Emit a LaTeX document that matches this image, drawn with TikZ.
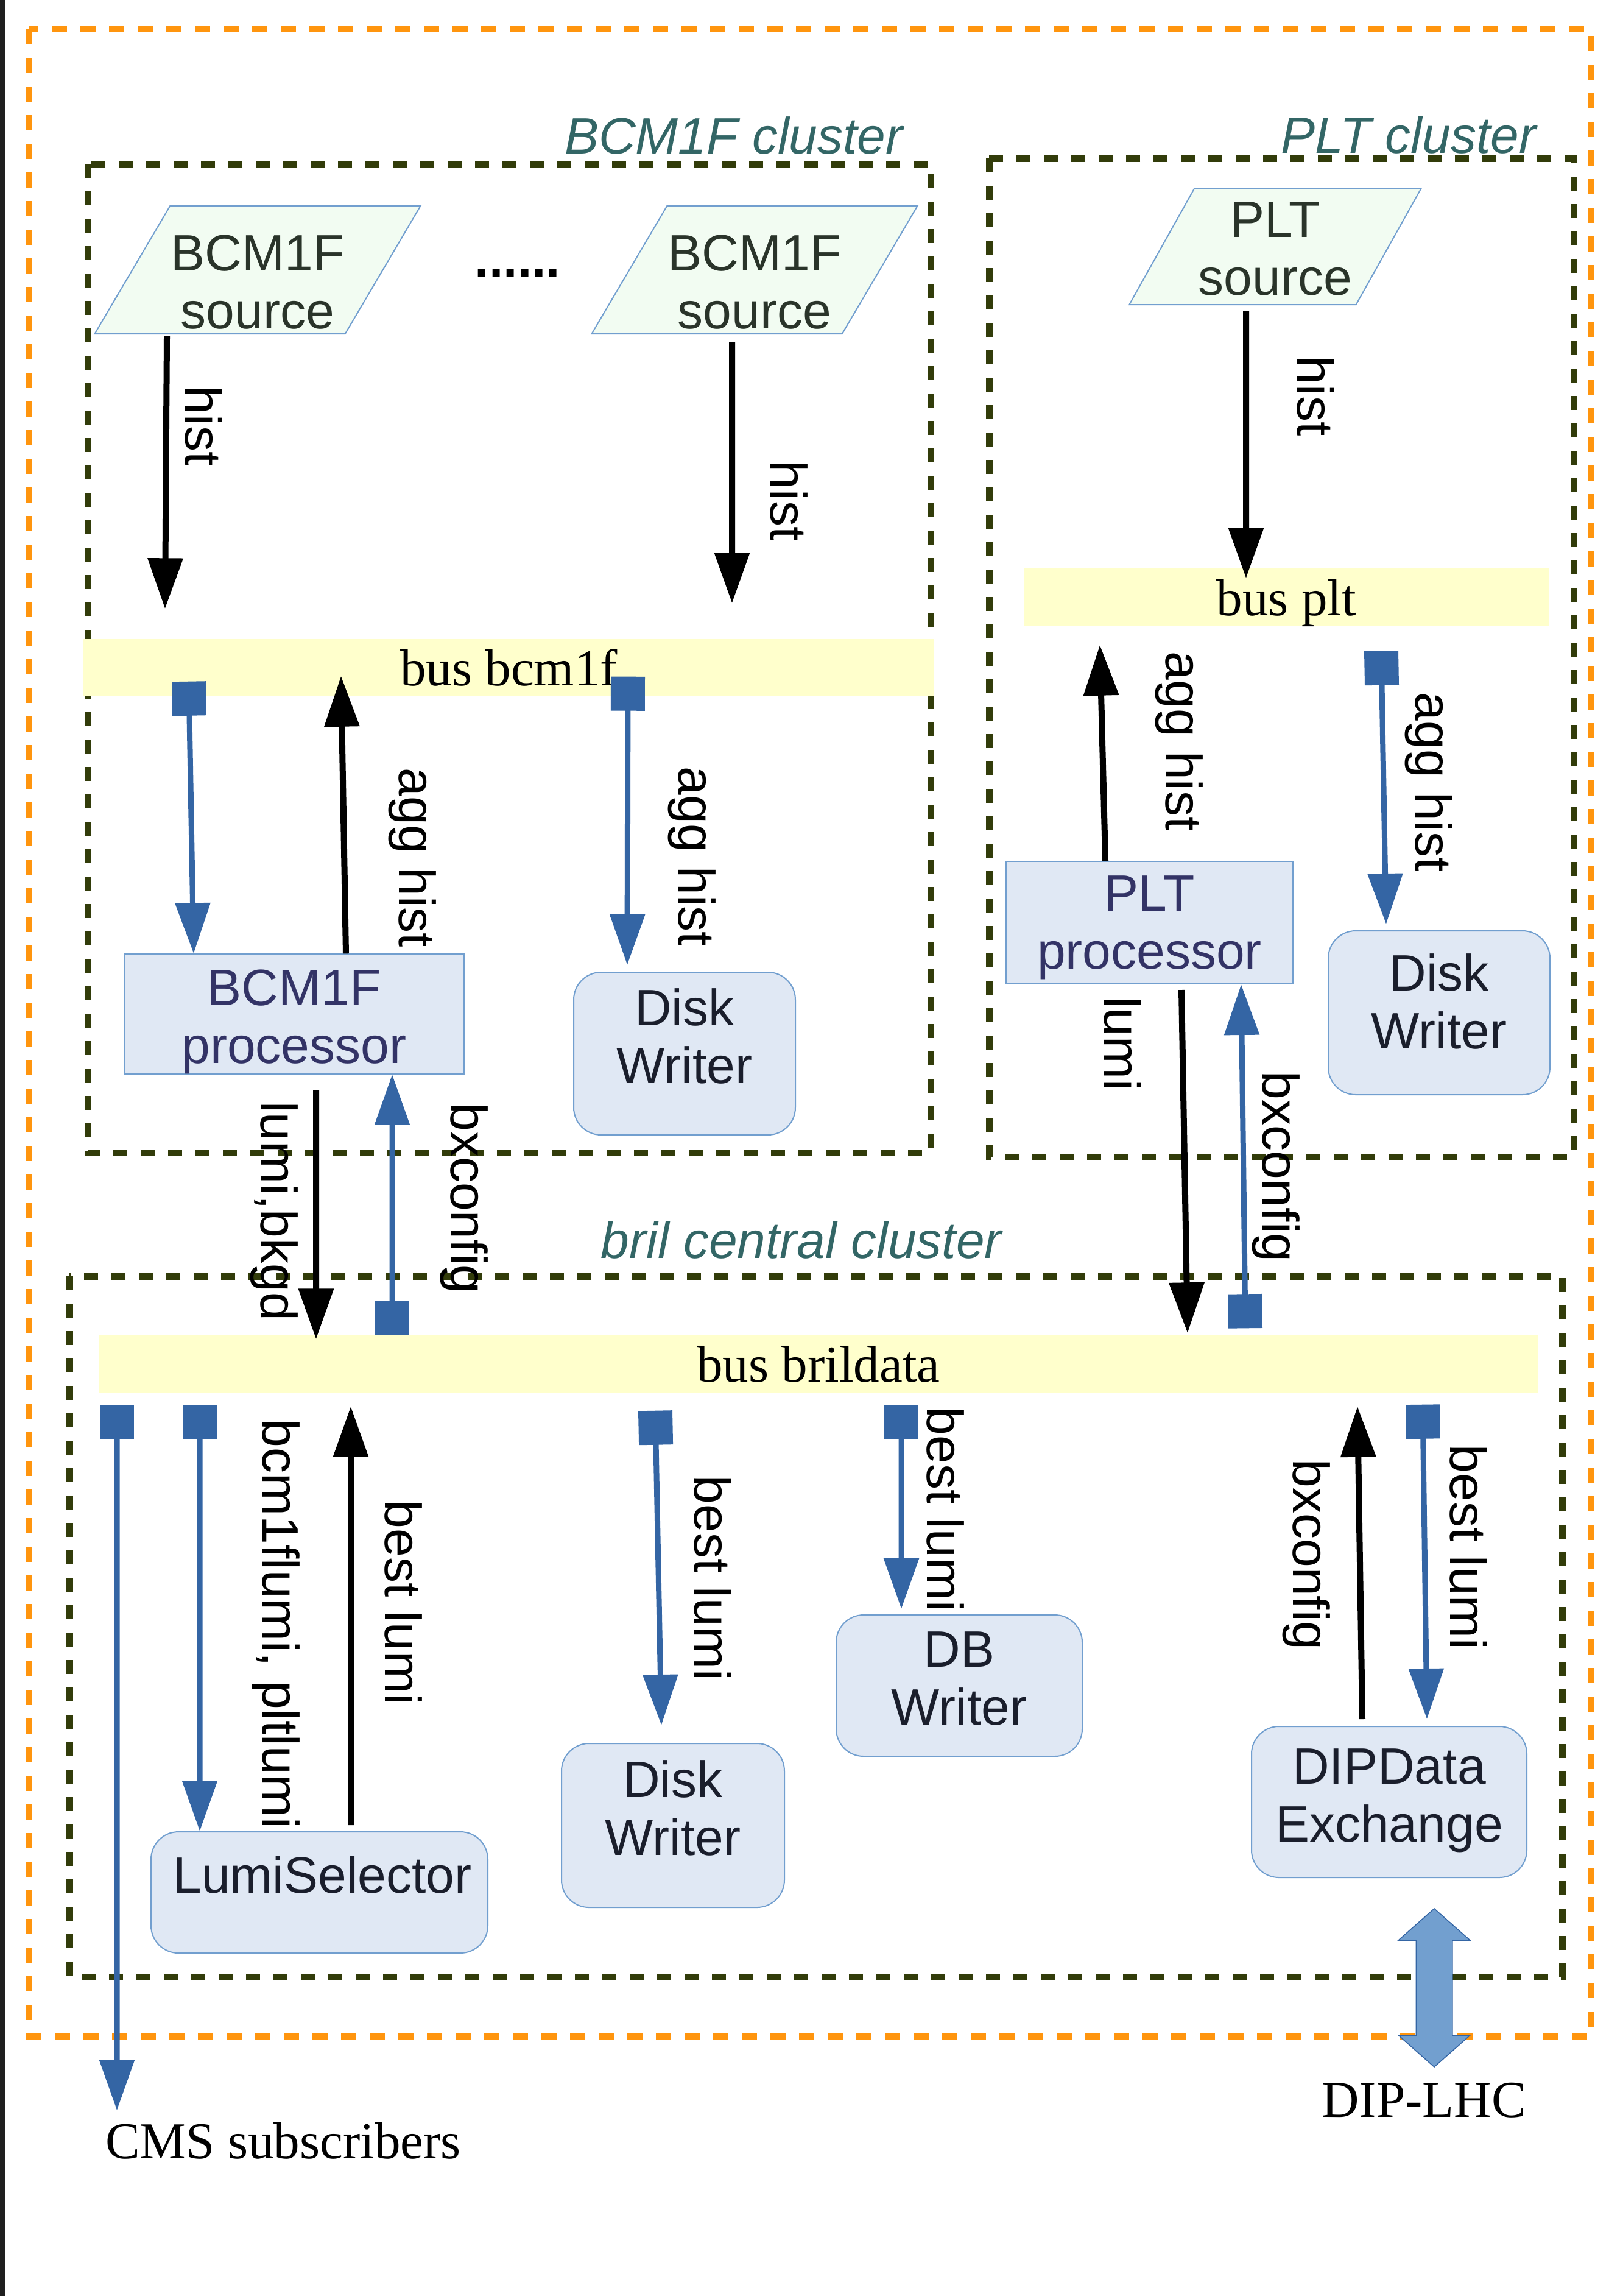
\documentclass[tikz,border=0pt]{standalone}
\usepackage{fontspec}
\setmainfont{Liberation Serif}
\setsansfont{Liberation Sans}
\usepackage{tikz}
\usetikzlibrary{shapes.geometric, shapes.arrows, arrows.meta, positioning, calc}

\definecolor{daqorange}{RGB}{255,149,14}
\definecolor{clusterolive}{RGB}{50,60,10}
\definecolor{clusterteal}{RGB}{51,102,102}
\definecolor{flowblue}{RGB}{52,101,164}
\definecolor{edgeblue}{RGB}{114,159,207}
\definecolor{boxblue}{RGB}{224,232,244}
\definecolor{srcgreen}{RGB}{242,252,242}
\definecolor{busyellow}{RGB}{255,255,204}
\definecolor{proctext}{RGB}{51,51,102}
\definecolor{srctext}{RGB}{42,52,42}
\definecolor{writertext}{RGB}{26,30,44}

\newcommand{\boxfont}{\sffamily\fontsize{23.9}{27}\selectfont}
\newcommand{\lblfont}{\sffamily\fontsize{23.9}{27}\selectfont}
\newcommand{\busfont}{\rmfamily\fontsize{24.2}{27}\selectfont}
\newcommand{\clusterfont}{\sffamily\itshape\fontsize{23.9}{27}\selectfont}

\tikzset{
    source/.style={
        trapezium, trapezium left angle=57.7, trapezium right angle=122.3,
        trapezium stretches=true, minimum width=5.36cm, minimum height=2.1cm,
        draw=edgeblue, line width=0.02cm, fill=srcgreen, inner sep=0pt,
        text=srctext, font=\boxfont, align=center
    },
    process/.style={
        rectangle, draw=edgeblue, line width=0.02cm, fill=boxblue,
        inner sep=0pt, text=proctext, font=\boxfont, align=center
    },
    writer/.style={process, rounded corners=0.45cm, text=writertext, text depth=0.58cm},
    bus/.style={rectangle, fill=busyellow, inner sep=0pt, font=\busfont, text depth=0pt},
    ext/.style={inner sep=0pt, font=\busfont},
    clustertitle/.style={inner sep=0pt, font=\clusterfont, text=clusterteal},
    cluster/.style={draw=clusterolive, line width=0.11cm, dash pattern=on 0.23cm off 0.22cm},
    daqframe/.style={draw=daqorange, line width=0.1cm, dash pattern=on 0.25cm off 0.22cm},
    tag/.style={rotate=-90, inner sep=0pt, font=\lblfont},
    % connectors
    arrow/.style={line width=0.1cm, -{Triangle[length=0.83cm, width=0.56cm]}},
    feed/.style={draw=flowblue, line width=0.09cm,
        {Square[length=0.56cm]}-{Triangle[length=0.83cm, width=0.56cm]}},
    bigarrow/.style={double arrow, rotate=90, draw=flowblue, line width=0.015cm,
        fill=edgeblue, inner xsep=0pt, inner ysep=0.29cm, minimum height=2.6cm,
        minimum width=1.16cm, double arrow head extend=0.29cm, double arrow tip angle=97}
}

\begin{document}
\begin{tikzpicture}[x=1cm, y=1cm]
    \useasboundingbox (0,0) rectangle (26.42,-37.69);
    \fill[black!88] (0,0) rectangle (0.08,-37.69);

    % frames
    \draw[daqframe] (0.48,-0.48) rectangle (26.12,-33.43);
    \draw[cluster] (1.44,-2.69) rectangle (15.28,-18.92);
    \draw[cluster] (16.24,-2.60) rectangle (25.84,-18.99);
    \draw[cluster] (1.14,-20.95) rectangle (25.65,-32.45);

    \node (bcm1ftitle) [clustertitle, anchor=base] at (12.05,-2.52) {BCM1F cluster};
    \node (plttitle) [clustertitle, anchor=base] at (23.13,-2.51) {PLT cluster};
    \node (briltitle) [clustertitle, anchor=base] at (13.16,-20.65) {bril central cluster};

    % BCM1F cluster
    \node (src1) [source, text height=1.93cm] at (4.23,-4.43) {BCM1F\\source};
    \node (src2) [source, text height=1.93cm] at (12.39,-4.43) {BCM1F\\source};
    \node (more) [font=\lblfont\bfseries, anchor=base] at (8.50,-4.54) {......};
    \node (bcm1fbus) [bus, minimum width=13.97cm, minimum height=0.93cm] at (8.355,-10.955) {bus bcm1f};
    \node (bcm1fproc) [process, text height=1.79cm, minimum width=5.58cm, minimum height=1.93cm] at (4.83,-16.645) {BCM1F\\processor};
    \node (bcm1fdisk) [writer, minimum width=3.64cm, minimum height=2.67cm] at (11.24,-17.295) {Disk\\Writer};

    % PLT cluster
    \node (pltsrc) [source, text height=1.6cm, minimum width=4.80cm, minimum height=1.91cm] at (20.94,-4.045) {PLT\\source};
    \node (pltbus) [bus, minimum width=8.63cm, minimum height=0.95cm] at (21.125,-9.805) {bus plt};
    \node (pltproc) [process, text height=1.69cm, minimum width=4.71cm, minimum height=2.01cm] at (18.875,-15.145) {PLT\\processor};
    \node (pltdisk) [writer, text depth=0.38cm, minimum width=3.64cm, minimum height=2.69cm] at (23.63,-16.625) {Disk\\Writer};

    % central cluster
    \node (brilbus) [bus, minimum width=23.62cm, minimum height=0.94cm] at (13.44,-22.39) {bus brildata};
    \node (lumisel) [writer, minimum width=5.53cm, minimum height=1.99cm] at (5.245,-31.065) {\hspace{0.1cm}LumiSelector};
    \node (centraldisk) [writer, minimum width=3.66cm, minimum height=2.69cm] at (11.05,-29.965) {Disk\\Writer};
    \node (dbwriter) [writer, text depth=0.24cm, minimum width=4.04cm, minimum height=2.32cm] at (15.75,-27.67) {DB\\Writer};
    \node (dipx) [writer, text depth=0.22cm, minimum width=4.52cm, minimum height=2.48cm] at (22.81,-29.58) {DIPData\\Exchange};

    % outside
    \node (cms) [ext, anchor=base] at (4.65,-35.43) {CMS subscribers};
    \node (diplhc) [ext, anchor=base] at (23.38,-34.75) {DIP-LHC};
    \node (diplink) [bigarrow] at (23.55,-32.63) {};

    % BCM1F connectors
    \draw [arrow] ([xshift=-1.49cm, yshift=-0.03cm]src1.south) -- ([xshift=-5.645cm, yshift=0.49cm]bcm1fbus.north)
        node (lh1) [tag] at (3.35,-6.99) {hist};
    \draw [arrow] ([xshift=-0.37cm, yshift=-0.12cm]src2.south) -- ([xshift=3.665cm, yshift=0.58cm]bcm1fbus.north)
        node (lh2) [tag] at (12.96,-8.22) {hist};
    \draw [feed] ([xshift=-5.255cm, yshift=0.24cm]bcm1fbus.south) -- ([xshift=-1.65cm]bcm1fproc.north);
    \draw [arrow] ([xshift=0.85cm]bcm1fproc.north) -- ([xshift=-2.755cm, yshift=0.33cm]bcm1fbus.south)
        node (lagg1) [tag] at (6.77,-14.08) {agg hist};
    \draw [feed] ([xshift=1.955cm, yshift=0.32cm]bcm1fbus.south) -- ([xshift=-0.94cm, yshift=0.11cm]bcm1fdisk.north)
        node (lagg2) [tag] at (11.36,-14.06) {agg hist};
    \draw [arrow] ([xshift=0.36cm, yshift=-0.26cm]bcm1fproc.south) -- ([xshift=-8.25cm, yshift=-0.07cm]brilbus.north)
        node (llb) [tag] at (4.50,-19.88) {lumi,bkgd};
    \draw [feed] ([xshift=-7.00cm]brilbus.north) -- ([xshift=1.61cm]bcm1fproc.south)
        node (lbx1) [tag] at (7.62,-19.67) {bxconfig};

    % PLT connectors
    \draw [arrow] ([xshift=-0.48cm, yshift=-0.10cm]pltsrc.south) -- ([xshift=-0.665cm, yshift=-0.17cm]pltbus.north)
        node (lh3) [tag] at (21.60,-6.50) {hist};
    \draw [arrow] ([xshift=-0.725cm]pltproc.north) -- ([xshift=-3.065cm, yshift=-0.30cm]pltbus.south)
        node (lagg3) [tag] at (19.36,-12.17) {agg hist};
    \draw [feed] ([xshift=1.555cm, yshift=-0.40cm]pltbus.south) -- ([xshift=-0.87cm, yshift=0.10cm]pltdisk.north)
        node (lagg4) [tag] at (23.46,-12.84) {agg hist};
    \draw [arrow] ([xshift=0.525cm, yshift=-0.09cm]pltproc.south) -- ([xshift=6.06cm, yshift=0.03cm]brilbus.north)
        node (llumi) [tag] at (18.44,-17.13) {lumi};
    \draw [feed] ([xshift=7.01cm, yshift=0.11cm]brilbus.north) -- ([xshift=1.505cm]pltproc.south)
        node (lbx2) [tag] at (20.95,-19.15) {bxconfig};

    % central connectors
    \draw [feed] ([xshift=-11.52cm, yshift=-0.19cm]brilbus.south) -- ([xshift=-2.73cm, yshift=0.19cm]cms.north);
    \draw [feed] ([xshift=-10.16cm, yshift=-0.19cm]brilbus.south) -- ([xshift=-1.965cm]lumisel.north)
        node (lsel) [tag] at (4.53,-26.66) {bcm1flumi, pltlumi};
    \draw [arrow] ([xshift=0.515cm, yshift=0.10cm]lumisel.north) -- ([xshift=-7.68cm, yshift=-0.22cm]brilbus.south)
        node (lbest1) [tag] at (6.63,-26.31) {best lumi};
    \draw [feed] ([xshift=-2.68cm, yshift=-0.29cm]brilbus.south) -- ([xshift=-0.19cm, yshift=0.29cm]centraldisk.north)
        node (lbest2) [tag] at (11.71,-25.91) {best lumi};
    \draw [feed] ([xshift=1.36cm, yshift=-0.20cm]brilbus.south) -- ([xshift=-0.95cm, yshift=0.09cm]dbwriter.north)
        node (lbest3) [tag] at (15.53,-24.78) {best lumi};
    \draw [arrow] ([xshift=-0.44cm, yshift=0.11cm]dipx.north) -- ([xshift=8.85cm, yshift=-0.22cm]brilbus.south)
        node (lbx3) [tag] at (21.45,-25.52) {bxconfig};
    \draw [feed] ([xshift=9.92cm, yshift=-0.19cm]brilbus.south) -- ([xshift=0.62cm, yshift=0.11cm]dipx.north)
        node (lbest4) [tag] at (24.11,-25.40) {best lumi};
\end{tikzpicture}
\end{document}
